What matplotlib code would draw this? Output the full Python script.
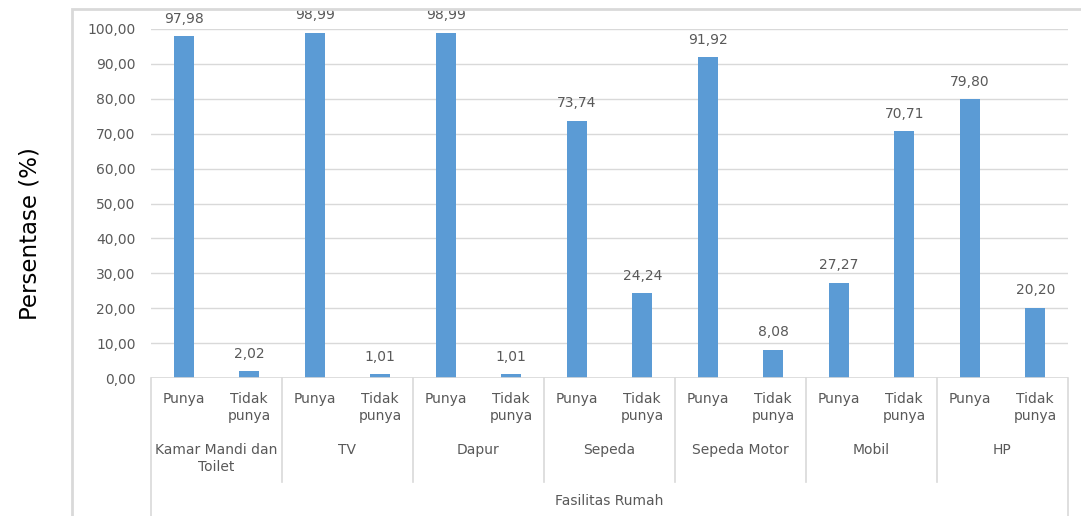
import matplotlib.pyplot as plt
from matplotlib.patches import Rectangle

plt.rcParams['font.family'] = ['DejaVu Sans']

groups = ['Kamar Mandi dan\nToilet', 'TV', 'Dapur', 'Sepeda', 'Sepeda Motor', 'Mobil', 'HP']
subs = ['Punya', 'Tidak\npunya']
punya = [97.98, 98.99, 98.99, 73.74, 91.92, 27.27, 79.80]
tidak_punya = [2.02, 1.01, 1.01, 24.24, 8.08, 70.71, 20.20]
yticks = [0, 10, 20, 30, 40, 50, 60, 70, 80, 90, 100]
x_title = 'Fasilitas Rumah'
y_title = 'Persentase (%)'

BAR = '#5B9BD5'
TXT = '#595959'
GRID = '#D9D9D9'
FS = 10

W, H = 1081, 516
fig = plt.figure(figsize=(W / 100, H / 100), dpi=100)

# plot area in pixels: x 151..1068, y 29 (100) .. 378 (0)
left, right, top, bottom = 151, 1068, 29, 378
ax = fig.add_axes([left / W, 1 - bottom / H, (right - left) / W, (bottom - top) / H])

def yf(py):
    # pixel row -> axes fraction
    return (bottom - py) / (bottom - top)

values = []
for p, t in zip(punya, tidak_punya):
    values += [p, t]
xs = list(range(len(values)))

ax.bar(xs, values, width=0.31, color=BAR, zorder=3)
for x, v in zip(xs, values):
    ax.annotate(f'{v:.2f}'.replace('.', ','), (x, v), xytext=(0, 12.5),
                textcoords='offset points', ha='center', va='center',
                fontsize=FS, color=TXT)

ax.set_xlim(-0.5, len(values) - 0.5)
ax.set_ylim(0, 100)
ax.set_yticks(yticks)
ax.set_yticklabels([f'{v:.2f}'.replace('.', ',') for v in yticks])
ax.tick_params(axis='y', length=0, pad=11, labelsize=FS, labelcolor=TXT)
ax.tick_params(axis='x', length=0, labelbottom=False)
ax.grid(axis='y', color=GRID, lw=1, zorder=0)
for s in ax.spines.values():
    s.set_visible(False)
ax.axhline(0, color=GRID, lw=1.2, zorder=4)

tr = ax.get_xaxis_transform()
# category labels
for i, x in enumerate(xs):
    ax.text(x, yf(392), subs[i % 2], transform=tr, ha='center', va='top',
            fontsize=FS, color=TXT, linespacing=1.3)
for g, name in enumerate(groups):
    ax.text(2 * g + 0.5, yf(443), name, transform=tr, ha='center', va='top',
            fontsize=FS, color=TXT, linespacing=1.3)
ax.text((len(values) - 1) / 2, yf(494), x_title, transform=tr, ha='center', va='top',
        fontsize=FS, color=TXT)

# separators
for g in range(len(groups) + 1):
    xb = 2 * g - 0.5
    end = 516 if g in (0, len(groups)) else 482
    ax.plot([xb, xb], [0, yf(end)], transform=tr, color=GRID, lw=1.2, clip_on=False)

fig.text(30 / W, 1 - 234 / H, y_title, rotation=90, ha='center', va='center',
         fontsize=16.5, color='black')

# outer chart frame
fig.add_artist(Rectangle((72 / W, -0.2), 1.0, 1.2 - 9 / H, transform=fig.transFigure,
                         fill=False, edgecolor=GRID, lw=2))

fig.savefig('out.png', dpi=100)
